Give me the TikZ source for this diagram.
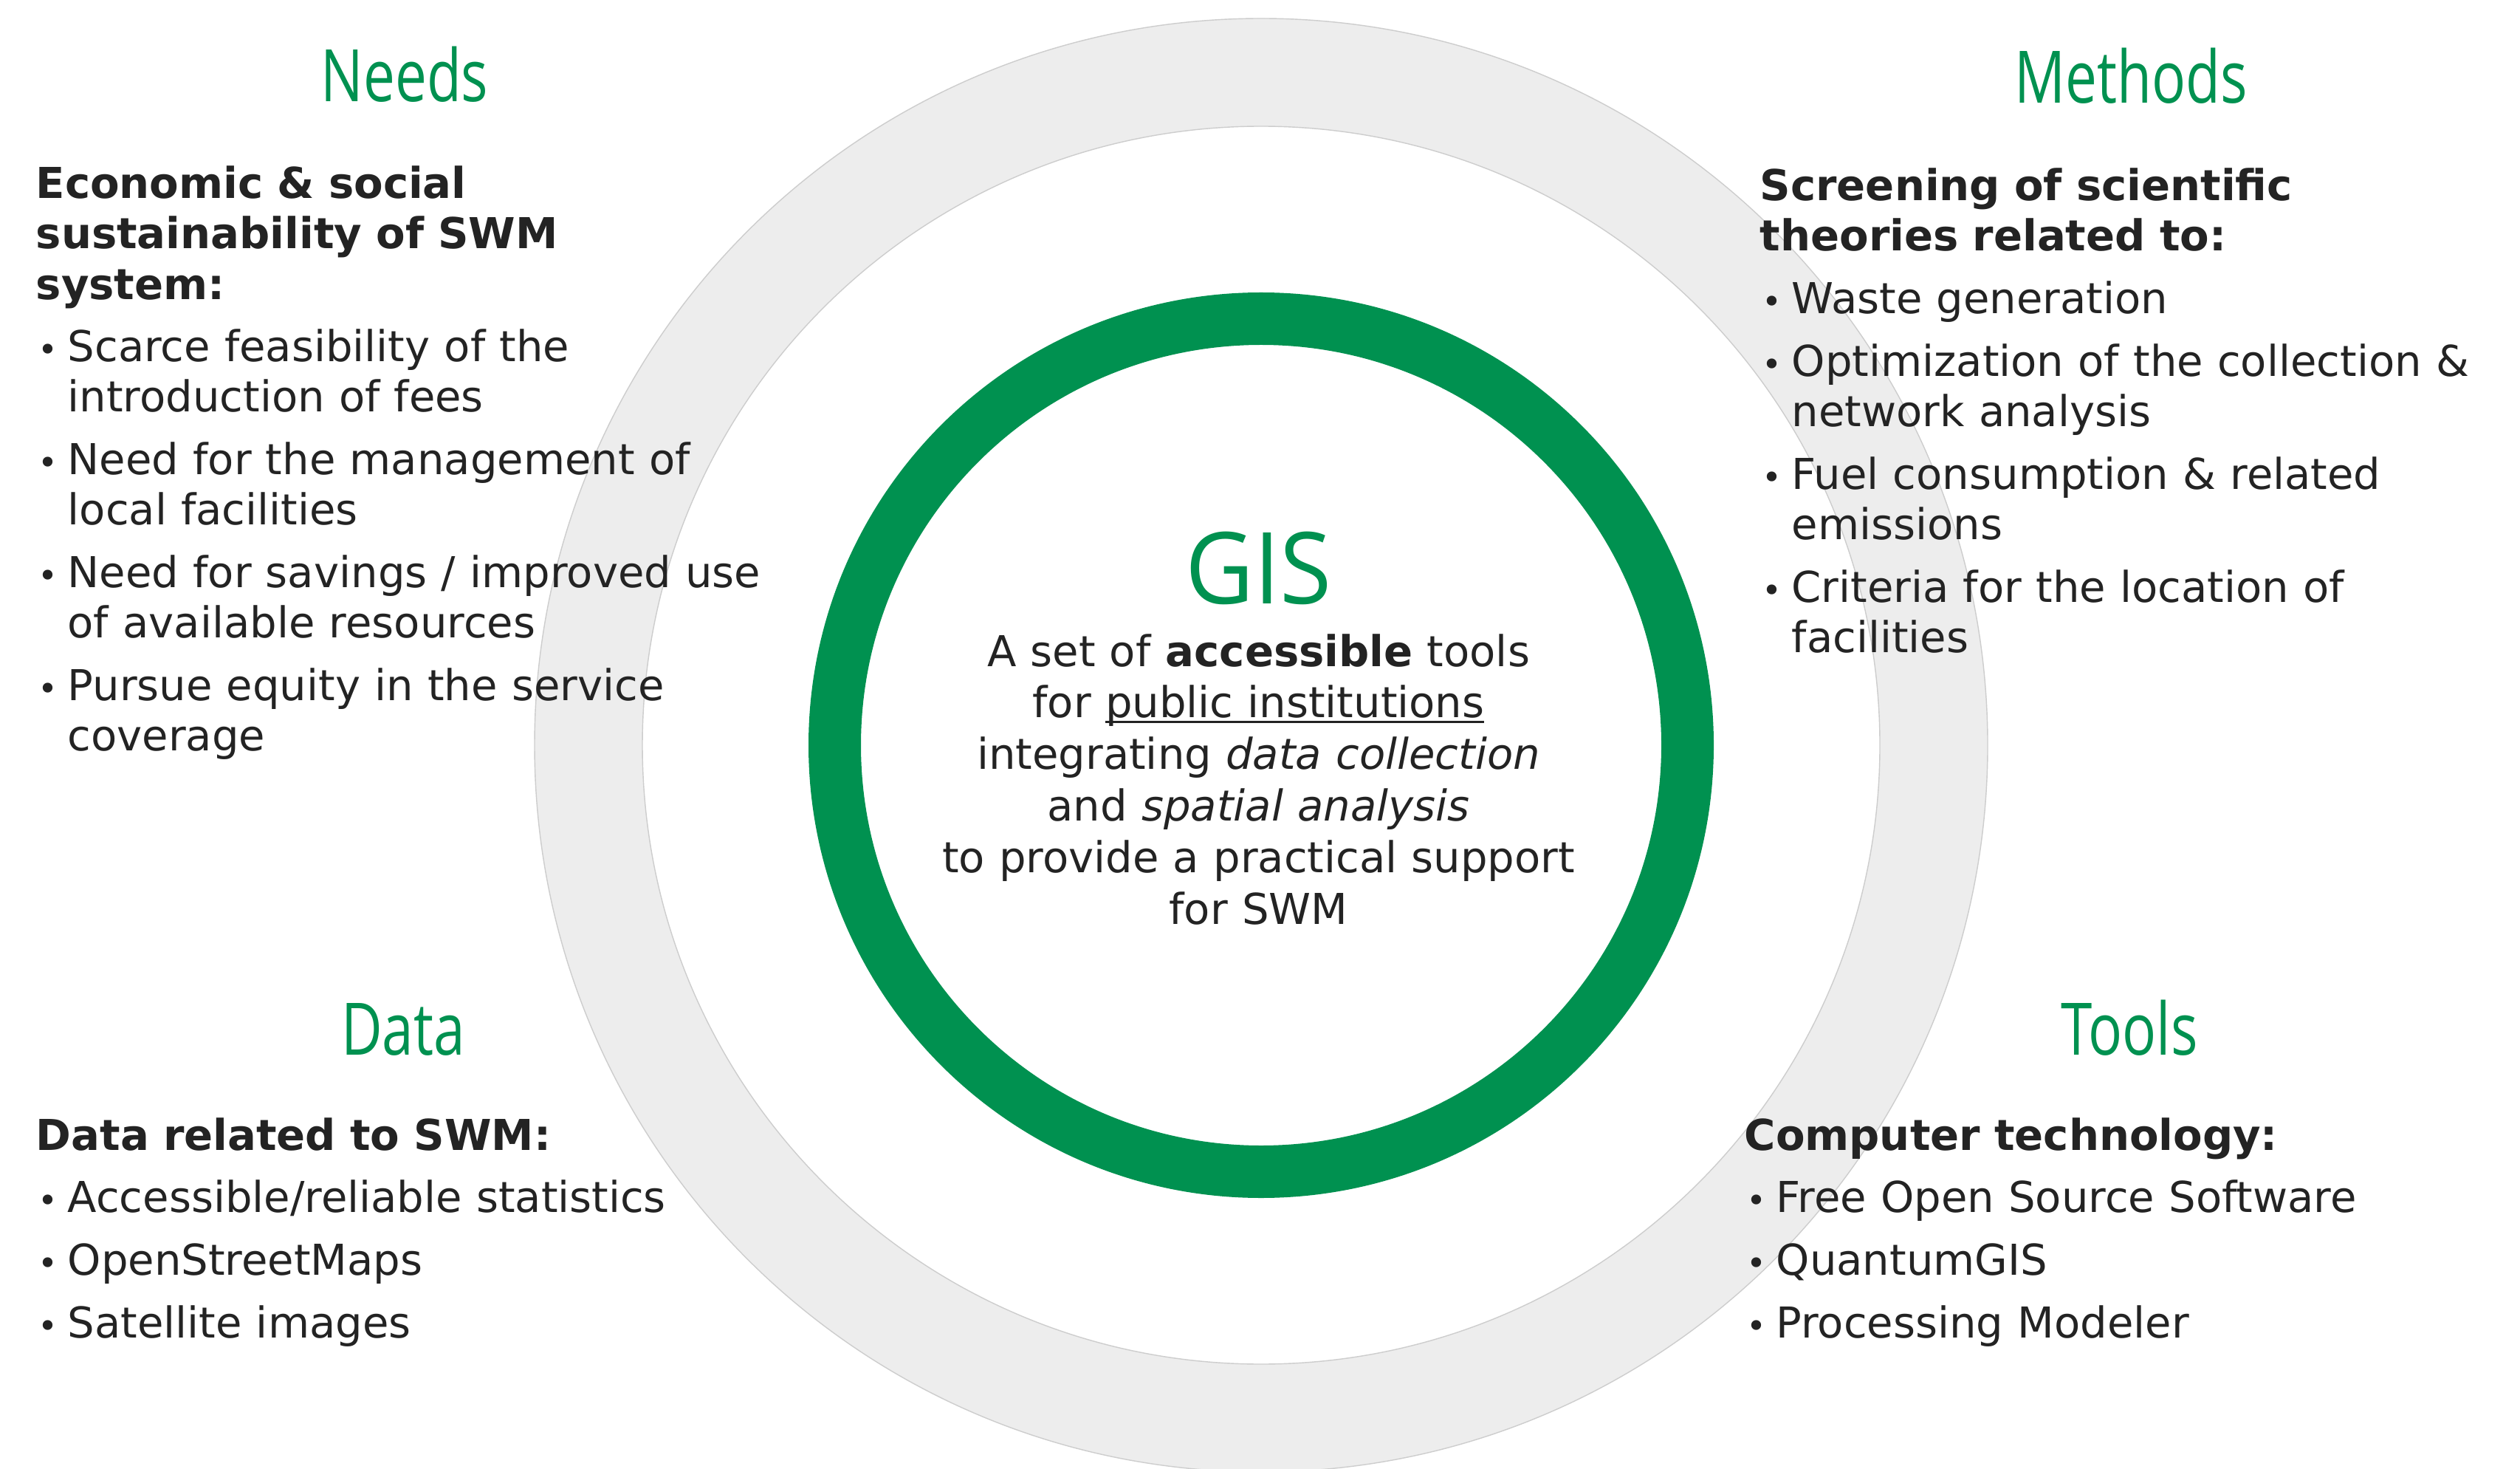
\documentclass[tikz,border=0pt]{standalone}
\usepackage{fontspec}
\setmainfont{DejaVu Sans}
\newfontfamily\headfont[FakeStretch=0.78]{Open Sans}
\newfontfamily\gisfont[FakeStretch=0.95]{Open Sans}
\usetikzlibrary{positioning}
\definecolor{mygreen}{RGB}{0,145,80}
\definecolor{myring}{RGB}{237,237,237}
\definecolor{myringedge}{RGB}{205,205,205}
\definecolor{mytext}{RGB}{35,35,35}

% bullet item with hanging indent
\newcommand{\bitem}[1]{\par\vspace{4.8pt}\hangindent=4.3mm\hangafter=1\noindent
  \makebox[4.3mm][l]{\hspace{0.3mm}{\fontsize{13}{13}\selectfont\textbullet}}#1\par}
\newcommand{\underlined}[1]{\setbox0\hbox{#1}\rlap{\rule[-0.75mm]{\wd0}{0.3mm}}\box0}

\tikzset{
  heading/.style={font=\headfont\fontsize{27.9}{30}\selectfont, text=mygreen,
    inner sep=0pt, anchor=base},
  listbox/.style={font=\fontsize{16.4}{19.35}\selectfont, text=mytext,
    text width=13cm, align=left, inner sep=0pt, anchor=base west},
  gisbox/.style={font=\fontsize{16.4}{19.9}\selectfont, text=mytext,
    text width=12cm, align=center, inner sep=0pt, anchor=base}
}

\begin{document}
\begin{tikzpicture}[
  outerring/.style={fill=myring, even odd rule},
  ringedge/.style={draw=myringedge, line width=0.4pt},
  greenring/.style={draw=mygreen, line width=7.1mm}
]
  \useasboundingbox (0,0) rectangle (34.13,19.88);
  \coordinate (c) at (17.08,9.79);

  % rings
  \fill[outerring] (c) circle (9.84) (c) circle (8.38);
  \path[ringedge] (c) circle (9.84) (c) circle (8.38);
  \path[greenring] (c) circle (5.775);

  % centre
  \node[heading, font=\gisfont\fontsize{38.3}{40}\selectfont] (gis) at (17.045,11.70) {GIS};
  \node[gisbox] (gisdesc) at ([yshift=-8.4mm]gis.base) {A set of \textbf{accessible} tools\\
    for \underlined{public institutions}\\
    integrating \textit{data collection}\\
    and \textit{spatial analysis}\\
    to provide a practical support\\
    for SWM};

  % Needs
  \node[heading] (needs) at (5.48,18.50) {Needs};
  \node[listbox] (needstext) at (0.48,17.19) {\textbf{Economic \& social}\\
    \textbf{sustainability of SWM}\\
    \textbf{system:}
    \bitem{Scarce feasibility of the\newline introduction of fees}
    \bitem{Need for the management of\newline local facilities}
    \bitem{Need for savings / improved use\newline of available resources}
    \bitem{Pursue equity in the service\newline coverage}};

  % Methods
  \node[heading] (methods) at (28.86,18.48) {Methods};
  \node[listbox] (methodstext) at (23.83,17.16) {\textbf{Screening of scientific}\\
    \textbf{theories related to:}
    \bitem{Waste generation}
    \bitem{Optimization of the collection \&\newline network analysis}
    \bitem{Fuel consumption \& related\newline emissions}
    \bitem{Criteria for the location of\newline facilities}};

  % Data
  \node[heading] (data) at (5.46,5.60) {Data};
  \node[listbox] (datatext) at (0.48,4.31) {\textbf{Data related to SWM:}
    \bitem{Accessible/reliable statistics}
    \bitem{OpenStreetMaps}
    \bitem{Satellite images}};

  % Tools
  \node[heading] (tools) at (28.84,5.60) {Tools};
  \node[listbox] (toolstext) at (23.62,4.31) {\textbf{Computer technology:}
    \bitem{Free Open Source Software}
    \bitem{QuantumGIS}
    \bitem{Processing Modeler}};
\end{tikzpicture}
\end{document}
